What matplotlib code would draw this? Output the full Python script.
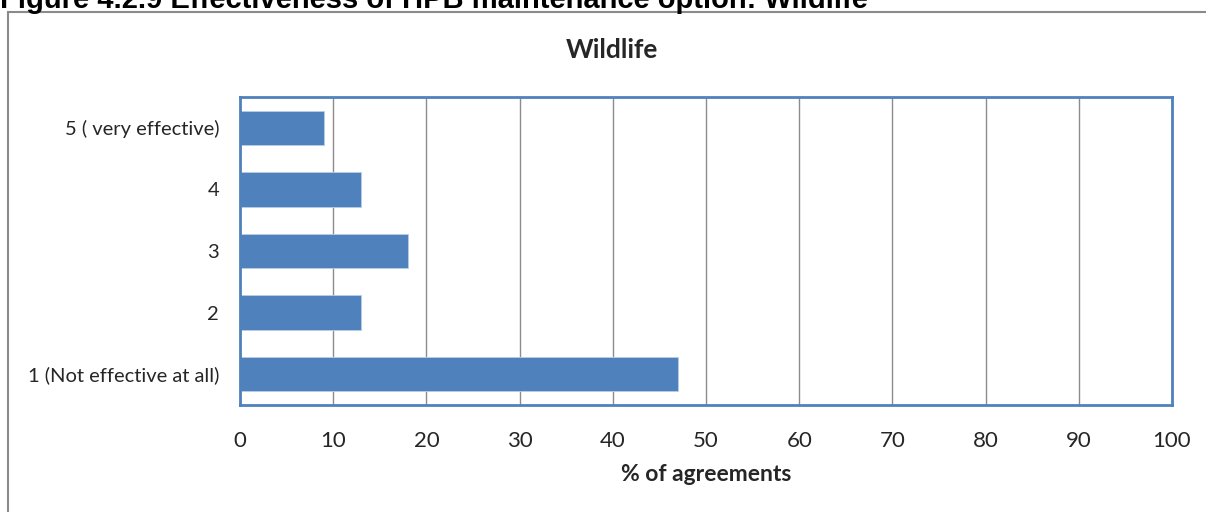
import matplotlib
matplotlib.use("Agg")
import matplotlib.pyplot as plt
from matplotlib.patches import Rectangle

categories = ["1 (Not effective at all)", "2", "3", "4", "5 ( very effective)"]
values = [47, 13, 18, 13, 9]
x_ticks = [0, 10, 20, 30, 40, 50, 60, 70, 80, 90, 100]

BLUE = "#4F81BD"
GRID = "#8C8C8C"
TEXT = "#262626"

plt.rcParams["font.family"] = ["Lato", "DejaVu Sans"]

W, H = 1206, 512
fig = plt.figure(figsize=(W / 100, H / 100), dpi=100)
fig.patch.set_facecolor("white")

# outer chart frame (extends past the right and bottom edges)
fig.add_artist(Rectangle((8 / W, -0.1), 1.2, (H - 12) / H + 0.1,
                         transform=fig.transFigure, fill=False,
                         edgecolor="#8A8A8A", linewidth=1.5, zorder=0))

# caption above the frame, partly clipped at the top
fig.text(0 / W, 1 - 8 / H,
         "Figure 4.2.9 Effectiveness of HPB maintenance option: Wildlife",
         family="Liberation Sans", weight="bold", fontsize=21,
         ha="left", va="baseline", color="black")

# chart title, centred on the frame
fig.text(612 / W, 1 - 50 / H, "Wildlife", fontsize=19, weight="bold",
         color=TEXT, ha="center", va="center")

ax = fig.add_axes([240 / W, 1 - 405 / H, (1172 - 240) / W, (405 - 97) / H])
y = list(range(len(categories)))
ax.barh(y, values, height=0.56, color=BLUE, edgecolor="#B9CDE5",
        linewidth=0.6, zorder=3)

ax.set_xlim(0, 100)
ax.set_ylim(-0.5, len(categories) - 0.5)
ax.set_xticks(x_ticks)
ax.set_xticklabels([str(t) for t in x_ticks], fontsize=16, color=TEXT)
ax.set_yticks(y)
ax.set_yticklabels(categories, fontsize=14.5, color=TEXT)
ax.tick_params(axis="both", length=0)
ax.tick_params(axis="x", pad=19)
ax.tick_params(axis="y", pad=15)

ax.grid(axis="x", color=GRID, linewidth=1, zorder=0)
ax.set_axisbelow(True)
for sp in ax.spines.values():
    sp.set_color(BLUE)
    sp.set_linewidth(2)
    sp.set_zorder(4)

ax.set_xlabel("% of agreements", fontsize=16.5, weight="bold", color=TEXT,
              labelpad=9)

fig.savefig("out.png", dpi=100)
